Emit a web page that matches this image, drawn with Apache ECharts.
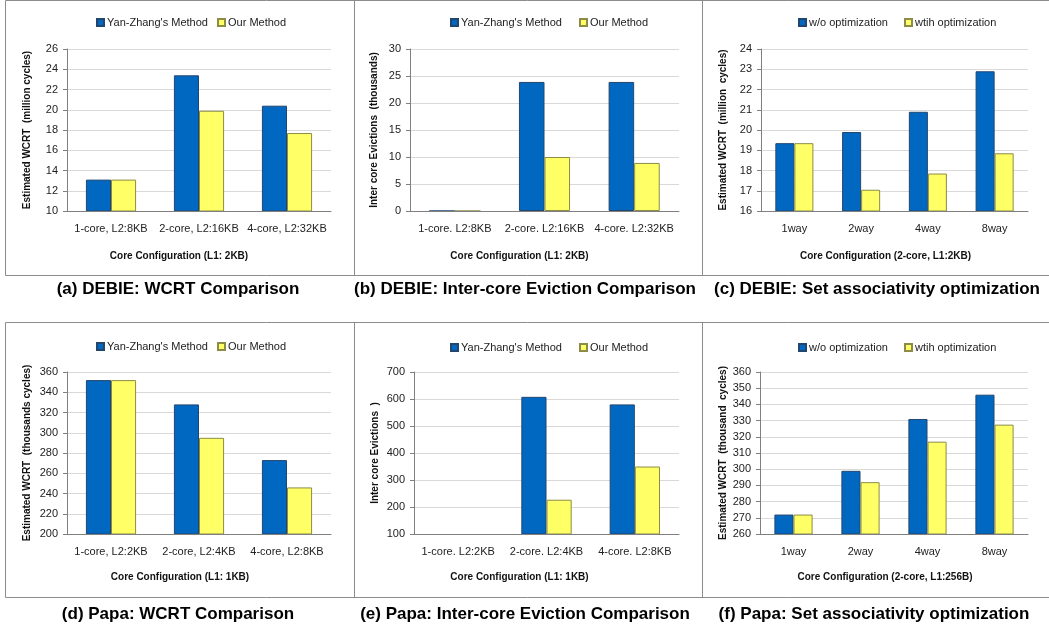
<!DOCTYPE html>
<html>
<head>
<meta charset="utf-8">
<title>DEBIE / Papa WCRT charts</title>
<script src="https://cdn.jsdelivr.net/npm/echarts@6/dist/echarts.min.js"></script>
<style>
  html, body { margin: 0; padding: 0; background: #fff; }
  #main { width: 1049px; height: 630px; }
</style>
</head>
<body>
<div id="main"></div>
<script>
'use strict';

// categories
var catsA = ['1-core, L2:8KB', '2-core, L2:16KB', '4-core, L2:32KB'];
var catsB = ['1-core. L2:8KB', '2-core. L2:16KB', '4-core. L2:32KB'];
var catsC = ['1way', '2way', '4way', '8way'];
var catsD = ['1-core, L2:2KB', '2-core, L2:4KB', '4-core, L2:8KB'];
var catsE = ['1-core. L2:2KB', '2-core. L2:4KB', '4-core. L2:8KB'];
var catsF = ['1way', '2way', '4way', '8way'];

// series values
var yanA = [13.1, 23.4, 20.4];
var ourA = [13.1, 19.9, 17.7];
var yanB = [0, 23.9, 23.9];
var ourB = [0, 10.0, 8.9];
var woC = [19.35, 19.9, 20.9, 22.9];
var withC = [19.35, 17.05, 17.85, 18.85];
var yanD = [352, 328, 273];
var ourD = [352, 295, 246];
var yanE = [98, 608, 580];
var ourE = [98, 227, 350];
var woF = [272, 299, 331, 346];
var withF = [272, 292, 317, 327.5];

// value axis ranges [min, max, interval]
var axisA = [10, 26, 2];
var axisB = [0, 30, 5];
var axisC = [16, 24, 1];
var axisD = [200, 360, 20];
var axisE = [100, 700, 100];
var axisF = [260, 360, 10];

var nameYan = "Yan-Zhang's Method";
var nameOur = 'Our Method';
var nameWo = 'w/o optimization';
var nameWith = 'wtih optimization';

var blue = '#0068C0';
var yellow = '#FFFF66';

var panels = [
  { cats: catsA, s1: yanA, s2: ourA, n1: nameYan, n2: nameOur, axis: axisA,
    grid: [67, 49, 264, 162], yName: 'Estimated WCRT  (million cycles)', yGap: 35,
    xName: 'Core Configuration (L1: 2KB)', xGap: 40, xShift: 40, leg: [96, 217, 17],
    caption: '(a) DEBIE: WCRT Comparison', cap: [178, 289] },
  { cats: catsB, s1: yanB, s2: ourB, n1: nameYan, n2: nameOur, axis: axisB,
    grid: [410, 49, 269, 162], yName: 'Inter core Evictions  (thousands)', yGap: 31,
    xName: 'Core Configuration (L1: 2KB)', xGap: 40, xShift: 50, leg: [450, 579, 17],
    caption: '(b) DEBIE: Inter-core Eviction Comparison', cap: [525, 289] },
  { cats: catsC, s1: woC, s2: withC, n1: nameWo, n2: nameWith, axis: axisC,
    grid: [761, 49, 267, 162], yName: 'Estimated WCRT  (million  cycles)', yGap: 33,
    xName: 'Core Configuration (2-core, L1:2KB)', xGap: 40, xShift: 18, leg: [798, 904, 17],
    caption: '(c) DEBIE: Set associativity optimization', cap: [877, 289] },
  { cats: catsD, s1: yanD, s2: ourD, n1: nameYan, n2: nameOur, axis: axisD,
    grid: [67, 372, 264, 162], yName: 'Estimated WCRT  (thousands cycles)', yGap: 35,
    xName: 'Core Configuration (L1: 1KB)', xGap: 38, xShift: 38, leg: [96, 217, 341],
    caption: '(d) Papa: WCRT Comparison', cap: [178, 614] },
  { cats: catsE, s1: yanE, s2: ourE, n1: nameYan, n2: nameOur, axis: axisE,
    grid: [414, 372, 265, 162], yName: 'Inter core Evictions  )', yGap: 34,
    xName: 'Core Configuration (L1: 1KB)', xGap: 38, xShift: 54, leg: [450, 579, 342],
    caption: '(e) Papa: Inter-core Eviction Comparison', cap: [525, 614] },
  { cats: catsF, s1: woF, s2: withF, n1: nameWo, n2: nameWith, axis: axisF,
    grid: [760, 372, 268, 162], yName: 'Estimated WCRT  (thousand  cycles)', yGap: 32,
    xName: 'Core Configuration (2-core, L1:256B)', xGap: 38, xShift: 18, leg: [798, 904, 342],
    caption: '(f) Papa: Set associativity optimization', cap: [874, 614] }
];

var font = '"Liberation Sans", Arial, sans-serif';
var grids = [], xAxes = [], yAxes = [], series = [], legends = [], texts = [];

panels.forEach(function (p, i) {
  grids.push({ left: p.grid[0], top: p.grid[1], width: p.grid[2], height: p.grid[3] });
  xAxes.push({
    type: 'category', gridIndex: i, data: p.cats,
    name: p.xName, nameLocation: 'middle', nameGap: p.xGap,
    nameTextStyle: { fontFamily: font, fontSize: 10, fontWeight: 'bold', color: '#111', padding: [0, p.xShift, 0, 0] },
    axisLine: { lineStyle: { color: '#808080' } },
    axisTick: { show: false },
    axisLabel: { fontFamily: font, fontSize: 11, color: '#222', margin: 12, interval: 0 },
    z: 5
  });
  yAxes.push({
    type: 'value', gridIndex: i, min: p.axis[0], max: p.axis[1], interval: p.axis[2],
    name: p.yName, nameLocation: 'middle', nameGap: p.yGap,
    nameTextStyle: { fontFamily: font, fontSize: 10, fontWeight: 'bold', color: '#111' },
    axisLine: { show: true, lineStyle: { color: '#808080' } },
    axisTick: { show: true, length: 4, lineStyle: { color: '#808080' } },
    axisLabel: { fontFamily: font, fontSize: 11, color: '#222', margin: 9 },
    splitLine: { lineStyle: { color: '#d9d9d9' } }
  });
  // bars grow from the axis minimum, clipped to the plot area
  series.push({
    name: p.n1, type: 'bar', xAxisIndex: i, yAxisIndex: i, data: p.s1,
    barGap: '0%', barCategoryGap: '43%',
    itemStyle: { color: blue, borderColor: '#23466f', borderWidth: 1 }
  });
  series.push({
    name: p.n2, type: 'bar', xAxisIndex: i, yAxisIndex: i, data: p.s2,
    barGap: '0%', barCategoryGap: '43%',
    itemStyle: { color: yellow, borderColor: '#8c8c46', borderWidth: 1 }
  });
  [p.n1, p.n2].forEach(function (n, k) {
    legends.push({
      data: [n], left: p.leg[k], top: p.leg[2], icon: 'rect',
      itemWidth: 7, itemHeight: 7, itemGap: 0, padding: 0,
      textStyle: { fontFamily: font, fontSize: 11, color: '#222', padding: [0, 0, 0, -2] },
      selectedMode: false
    });
  });
  texts.push({
    type: 'text', x: p.cap[0], y: p.cap[1],
    style: { text: p.caption, fontFamily: font, fontSize: 17, fontWeight: 'bold',
      fill: '#000', align: 'center', verticalAlign: 'middle' }
  });
});

var frame = { stroke: '#8c8c8c', lineWidth: 1, fill: 'none' };
var frames = [
  { type: 'rect', shape: { x: 5.5, y: 0.5, width: 1060, height: 275 }, style: frame },
  { type: 'rect', shape: { x: 5.5, y: 322.5, width: 1060, height: 275 }, style: frame },
  { type: 'line', shape: { x1: 354.5, y1: 0, x2: 354.5, y2: 276 }, style: frame },
  { type: 'line', shape: { x1: 702.5, y1: 0, x2: 702.5, y2: 276 }, style: frame },
  { type: 'line', shape: { x1: 354.5, y1: 322, x2: 354.5, y2: 598 }, style: frame },
  { type: 'line', shape: { x1: 702.5, y1: 322, x2: 702.5, y2: 598 }, style: frame }
];

var option = {
  animation: false,
  backgroundColor: '#fff',
  grid: grids,
  xAxis: xAxes,
  yAxis: yAxes,
  legend: legends,
  series: series,
  graphic: frames.concat(texts)
};

var myChart = echarts.init(document.getElementById('main'));
myChart.setOption(option);
</script>
</body>
</html>
